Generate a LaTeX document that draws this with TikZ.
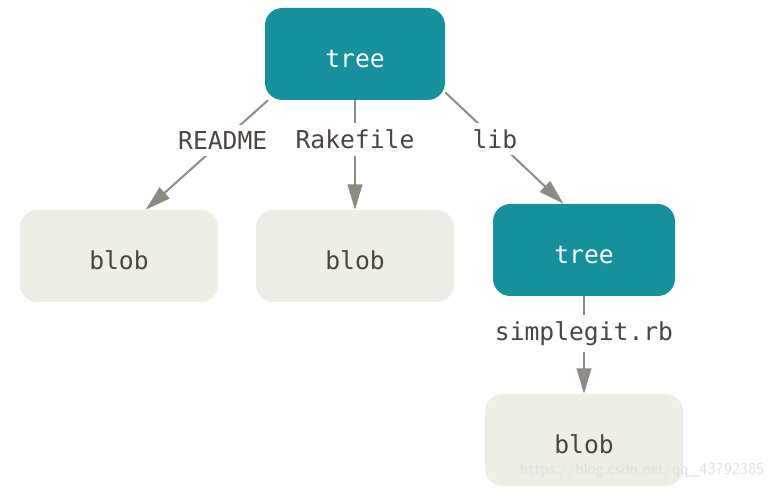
\documentclass[tikz,border=0pt]{standalone}
\usepackage{fontspec}
\setmonofont{DejaVu Sans Mono}
\usetikzlibrary{arrows.meta}
\definecolor{teal}{HTML}{16909A}
\definecolor{blobgray}{HTML}{EEEDE6}
\definecolor{ink}{HTML}{4B4441}
\definecolor{edgegray}{HTML}{8E8A84}
\tikzset{
    every node/.style={font=\ttfamily\fontsize{18.5}{21}\selectfont},
    treebox/.style={rectangle, rounded corners=13pt, fill=teal, text=white,
        minimum width=135pt, minimum height=69pt, inner sep=0pt,
        text height=20pt, text depth=0pt},
    blobbox/.style={rectangle, rounded corners=13pt, fill=blobgray, text=ink,
        minimum width=148.5pt, minimum height=69pt, inner sep=0pt,
        text height=20pt, text depth=0pt},
    lbl/.style={fill=white, text=ink, inner xsep=2pt, inner ysep=5pt},
    link/.style={draw=edgegray, line width=1.5pt,
        -{Triangle[length=19pt, width=11pt]}}
}
\begin{document}
\begin{tikzpicture}[x=0.75pt, y=-0.75pt]
  \useasboundingbox (0,0) rectangle (778,491);

  \node (t) [treebox] at (355, 54) {tree};
  \node (b1) [blobbox] at (119, 256) {blob};
  \node (b2) [blobbox] at (355, 256) {blob};
  \node (t2) [treebox, minimum width=136.5pt] at (584, 250) {tree};
  \node (b3) [blobbox] at (584, 440) {blob};

  \draw [link] (t.-152) -- node [lbl, pos=0.37] {README} (b1.60);
  \draw [link] (t.south) -- node [lbl, pos=0.36] {Rakefile} (b2.north);
  \draw [link] (t.-23) -- node [lbl, pos=0.42] {lib} (t2.114);
  \draw [link] (t2.south) -- node [lbl, pos=0.38] {simplegit.rb} (b3.north);

  \node (wm) [anchor=east, text=black!12, font=\sffamily\fontsize{12.4}{15}\selectfont] at (769, 470) {https://blog.csdn.net/qq\_43792385};
\end{tikzpicture}
\end{document}
